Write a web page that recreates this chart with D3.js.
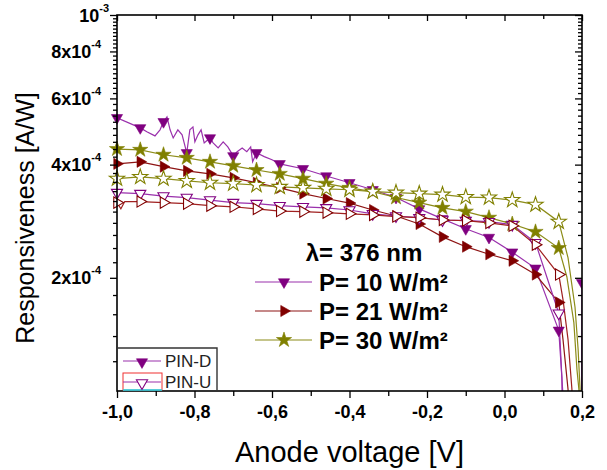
<!DOCTYPE html>
<html>
<head>
<meta charset="utf-8">
<script src="https://cdn.jsdelivr.net/npm/d3@7"></script>
<style>
    body { margin: 0; background: #fff; }
    svg { display: block; font-family: Arial, "Liberation Sans", sans-serif; }
</style>
</head>
<body>
<div class="main"></div>
<script>
// Voltages (V) where the markers sit, one every 0.06 V
const volts = [-1.00, -0.94, -0.88, -0.82, -0.76, -0.70, -0.64, -0.58, -0.52, -0.46,
    -0.40, -0.34, -0.28, -0.22, -0.16, -0.10, -0.04, 0.02, 0.08, 0.14, 0.20];

// Responsivity at those voltages, in units of 1e-4 A/W
const pinD10 = [5.33, 5.01, 5.20, 4.30, 4.71, 4.22, 4.30, 4.02, 3.90, 3.73,
    3.58, 3.43, 3.27, 3.05, 2.87, 2.70, 2.56, 2.34, 2.12, 1.45, 1.94];
const pinD21 = [4.02, 4.07, 3.95, 3.85, 3.78, 3.69, 3.58, 3.47, 3.35, 3.25,
    3.16, 3.03, 2.92, 2.78, 2.57, 2.42, 2.31, 2.22, 2.04, 1.72, null];
const pinD30 = [4.40, 4.38, 4.25, 4.17, 4.07, 3.97, 3.87, 3.78, 3.67, 3.56,
    3.47, 3.39, 3.27, 3.17, 3.07, 3.00, 2.89, 2.78, 2.65, 2.40, null];
const pinU10 = [3.37, 3.35, 3.30, 3.27, 3.22, 3.17, 3.15, 3.11, 3.09, 3.07,
    3.03, 2.96, 2.92, 2.89, 2.85, 2.84, 2.82, 2.77, 2.48, 1.61, null];
const pinU21 = [3.17, 3.19, 3.17, 3.15, 3.11, 3.09, 3.05, 3.01, 3.00, 2.98,
    2.96, 2.94, 2.91, 2.89, 2.85, 2.84, 2.80, 2.75, 2.45, 2.04, null];
const pinU30 = [3.67, 3.71, 3.67, 3.62, 3.58, 3.56, 3.53, 3.49, 3.47, 3.45,
    3.43, 3.39, 3.37, 3.35, 3.33, 3.28, 3.27, 3.22, 3.13, 2.82, null];

// Points between markers [V, 1e-4 A/W]: noise and the drop near open circuit
const pinD10Extra = [[-0.923, 4.89], [-0.902, 4.77], [-0.889, 4.95], [-0.871, 5.36],
    [-0.863, 4.95], [-0.855, 4.71], [-0.843, 4.95], [-0.832, 4.80], [-0.812, 4.95],
    [-0.804, 5.04], [-0.799, 4.60], [-0.791, 4.80], [-0.783, 4.95], [-0.775, 4.57],
    [-0.752, 4.57], [-0.739, 4.43], [-0.726, 4.60], [-0.714, 4.46], [-0.690, 4.33],
    [-0.677, 4.43], [-0.665, 4.33], [-0.655, 4.46], [-0.650, 4.07], [-0.620, 4.20],
    [-0.600, 4.12], [0.148, 1.09], [0.151, 0.97], [0.155, 0.5], [0.198, 0.5]];
const pinD21Extra = [[0.151, 1.37], [0.164, 1.01], [0.170, 0.5]];
const pinD30Extra = [[0.161, 2.01], [0.179, 1.52], [0.187, 1.14], [0.192, 1.01], [0.196, 0.5]];
const pinU10Extra = [[0.148, 1.09], [0.152, 0.5]];
const pinU21Extra = [[-0.99, 3.05], [-0.98, 3.19], [0.151, 1.75], [0.164, 1.37],
    [0.174, 1.01], [0.178, 0.5]];
const pinU30Extra = [[0.164, 2.26], [0.182, 1.67], [0.190, 1.29], [0.195, 1.01], [0.198, 0.5]];

const xTicks = [-1.0, -0.8, -0.6, -0.4, -0.2, 0.0, 0.2];
const xMinor = [-0.9, -0.7, -0.5, -0.3, -0.1, 0.1];
const yTicks = [2, 4, 6, 8, 10];
const yTickLabels = [["2x10", "-4"], ["4x10", "-4"], ["6x10", "-4"], ["8x10", "-4"], ["10", "-3"]];
const powers = ["P= 10 W/m\u00b2", "P= 21 W/m\u00b2", "P= 30 W/m\u00b2"];
const pinNames = ["PIN-D", "PIN-U"];

const w = 607;
const h = 470;
const pLeft = 117, pRight = 582, pTop = 15, pBottom = 391;

const purple = "#800080", wine = "#800000", olive = "#808000";

const series = [
    { r: pinD10, extra: pinD10Extra, color: purple, line: "#9a30ac", shape: "down", filled: true },
    { r: pinD21, extra: pinD21Extra, color: wine, line: "#8e1414", shape: "right", filled: true },
    { r: pinD30, extra: pinD30Extra, color: olive, line: "#8c8c18", shape: "star", filled: true },
    { r: pinU10, extra: pinU10Extra, color: purple, line: "#9a30ac", shape: "down", filled: false },
    { r: pinU21, extra: pinU21Extra, color: wine, line: "#a02020", shape: "right", filled: false },
    { r: pinU30, extra: pinU30Extra, color: olive, line: "#8c8c18", shape: "star", filled: false }
];

const svg = d3.select(".main").append("svg").attr("width", w).attr("height", h);

const xScale = d3.scaleLinear().domain([-1.0, 0.2]).range([pLeft, pRight]);
const yScale = d3.scaleLog().domain([1, 10]).range([pBottom, pTop]);

// clip areas
const defs = svg.append("defs");
defs.append("clipPath").attr("id", "plot")
    .append("rect").attr("x", pLeft).attr("y", pTop)
    .attr("width", pRight - pLeft).attr("height", pBottom - pTop);
defs.append("clipPath").attr("id", "marks")
    .append("rect").attr("x", 100).attr("y", 0).attr("width", pRight - 100).attr("height", pBottom);

function symbolPath(shape, size) {
    const type = shape === "star" ? d3.symbolStar : d3.symbolTriangle;
    return d3.symbol().type(type).size(size)();
}
function symbolRotate(shape) {
    if (shape === "down") return 180;
    if (shape === "right") return 90;
    return 0;
}
function markSize(s) {
    return s.shape === "star" ? 72 : 54;
}
function drawMarker(g, s, cx, cy) {
    g.append("path")
        .attr("d", symbolPath(s.shape, markSize(s)))
        .attr("transform", `translate(${cx},${cy}) rotate(${symbolRotate(s.shape)})`)
        .attr("fill", s.filled ? s.color : "#fff")
        .attr("stroke", s.color)
        .attr("stroke-width", s.filled ? 0.6 : 1.1);
}

// Lines
const line = d3.line().x((d) => xScale(d[0])).y((d) => yScale(d[1]));
const lineLayer = svg.append("g").attr("clip-path", "url(#plot)");
const markLayer = svg.append("g").attr("clip-path", "url(#marks)");

series.forEach((s) => {
    const pts = volts.map((v, i) => [v, s.r[i]]).filter((d) => d[1] != null);
    const all = pts.concat(s.extra).sort((a, b) => a[0] - b[0]);
    lineLayer.append("path")
        .datum(all)
        .attr("d", line)
        .attr("fill", "none")
        .attr("stroke", s.line)
        .attr("stroke-width", 1.2);
    s.pts = pts;
});
series.forEach((s) => {
    s.pts.forEach((d) => drawMarker(markLayer, s, xScale(d[0]), yScale(d[1])));
});

// Axes
const fmt = (d) => d3.format(".1f")(d).replace(".", ",").replace("\u2212", "-");

const xAxis = svg.append("g").attr("transform", `translate(0,${pBottom})`)
    .call(d3.axisBottom(xScale).tickValues(xTicks).tickSize(7).tickSizeOuter(0).tickFormat(fmt));
xAxis.selectAll("text")
    .attr("y", 27).attr("dy", 0)
    .attr("font-size", 18).attr("font-weight", "bold").attr("fill", "#000")
    .attr("font-family", "Arial, 'Liberation Sans', sans-serif");
svg.append("g").attr("transform", `translate(0,${pBottom})`)
    .call(d3.axisBottom(xScale).tickValues(xMinor).tickSize(5).tickSizeOuter(0).tickFormat(""));
svg.append("g").attr("transform", `translate(0,${pTop})`)
    .call(d3.axisBottom(xScale).tickValues(xTicks).tickSize(6).tickSizeOuter(0).tickFormat(""));
svg.append("g").attr("transform", `translate(0,${pTop})`)
    .call(d3.axisBottom(xScale).tickValues(xMinor).tickSize(4).tickSizeOuter(0).tickFormat(""));

const yMinor = d3.range(12, 100, 2).map((d) => d / 10).filter((d) => !yTicks.includes(d));

const yAxis = svg.append("g").attr("transform", `translate(${pLeft},0)`)
    .call(d3.axisLeft(yScale).tickValues(yTicks).tickSize(7).tickSizeOuter(0).tickFormat(""));
svg.append("g").attr("transform", `translate(${pLeft},0)`)
    .call(d3.axisLeft(yScale).tickValues(yMinor).tickSize(4).tickSizeOuter(0).tickFormat(""));
svg.append("g").attr("transform", `translate(${pRight},0)`)
    .call(d3.axisLeft(yScale).tickValues(yTicks).tickSize(7).tickSizeOuter(0).tickFormat(""));
svg.append("g").attr("transform", `translate(${pRight},0)`)
    .call(d3.axisLeft(yScale).tickValues(yMinor).tickSize(4).tickSizeOuter(0).tickFormat(""));

yAxis.selectAll(".tick").each(function (d, i) {
    const t = d3.select(this).append("text")
        .attr("x", d === 10 ? -8 : -16)
        .attr("y", 6)
        .attr("text-anchor", "end")
        .attr("fill", "#000")
        .attr("font-weight", "bold")
        .attr("font-family", "Arial, 'Liberation Sans', sans-serif");
    t.append("tspan").attr("font-size", 18).text(yTickLabels[i][0]);
    t.append("tspan").attr("font-size", 11).attr("dy", -10).text(yTickLabels[i][1]);
});

svg.selectAll(".domain").remove();
svg.selectAll(".tick line").attr("stroke", "#000").attr("stroke-width", 1.3);

svg.append("rect")
    .attr("x", pLeft).attr("y", pTop)
    .attr("width", pRight - pLeft).attr("height", pBottom - pTop)
    .attr("fill", "none").attr("stroke", "#000").attr("stroke-width", 1.6);

// Axis titles
svg.append("text")
    .attr("x", (pLeft + pRight) / 2).attr("y", 462)
    .attr("text-anchor", "middle").attr("font-size", 29)
    .text("Anode voltage [V]");
svg.append("text")
    .attr("transform", `translate(34,218) rotate(-90)`)
    .attr("text-anchor", "middle").attr("font-size", 25)
    .text("Responsiveness [A/W]");

// Power legend
const pLegend = svg.append("g");
pLegend.append("text")
    .attr("x", 364).attr("y", 261)
    .attr("text-anchor", "middle").attr("font-size", 24).attr("font-weight", "bold")
    .text("\u03bb= 376 nm");
powers.forEach((p, i) => {
    const s = series[i];
    const cy = 282 + i * 29;
    pLegend.append("line")
        .attr("x1", 255).attr("x2", 312).attr("y1", cy).attr("y2", cy)
        .attr("stroke", s.line).attr("stroke-width", 1.2);
    drawMarker(pLegend, s, 284, cy);
    pLegend.append("text")
        .attr("x", 319).attr("y", cy + 8.5)
        .attr("font-size", 24).attr("font-weight", "bold")
        .text(p);
});

// Device legend box
const dLegend = svg.append("g");
dLegend.append("path")
    .attr("d", `M${pLeft},348H217V${pBottom}`)
    .attr("fill", "none").attr("stroke", "#333").attr("stroke-width", 1.4);
dLegend.append("rect")
    .attr("x", 123).attr("y", 373).attr("width", 39).attr("height", 17)
    .attr("fill", "none").attr("stroke", "#f03030").attr("stroke-width", 1);
dLegend.append("line")
    .attr("x1", 123).attr("x2", 162).attr("y1", 390).attr("y2", 390)
    .attr("stroke", "#20e0f0").attr("stroke-width", 1.5);
pinNames.forEach((n, i) => {
    const s = series[i * 3];
    const cy = 361 + i * 21;
    dLegend.append("line")
        .attr("x1", 123).attr("x2", 161).attr("y1", cy).attr("y2", cy)
        .attr("stroke", s.line).attr("stroke-width", 1.2);
    drawMarker(dLegend, s, 142, cy + 1);
    dLegend.append("text")
        .attr("x", 165).attr("y", cy + 6)
        .attr("font-size", 17)
        .attr("fill", "#222")
        .text(n);
});
</script>
</body>
</html>
